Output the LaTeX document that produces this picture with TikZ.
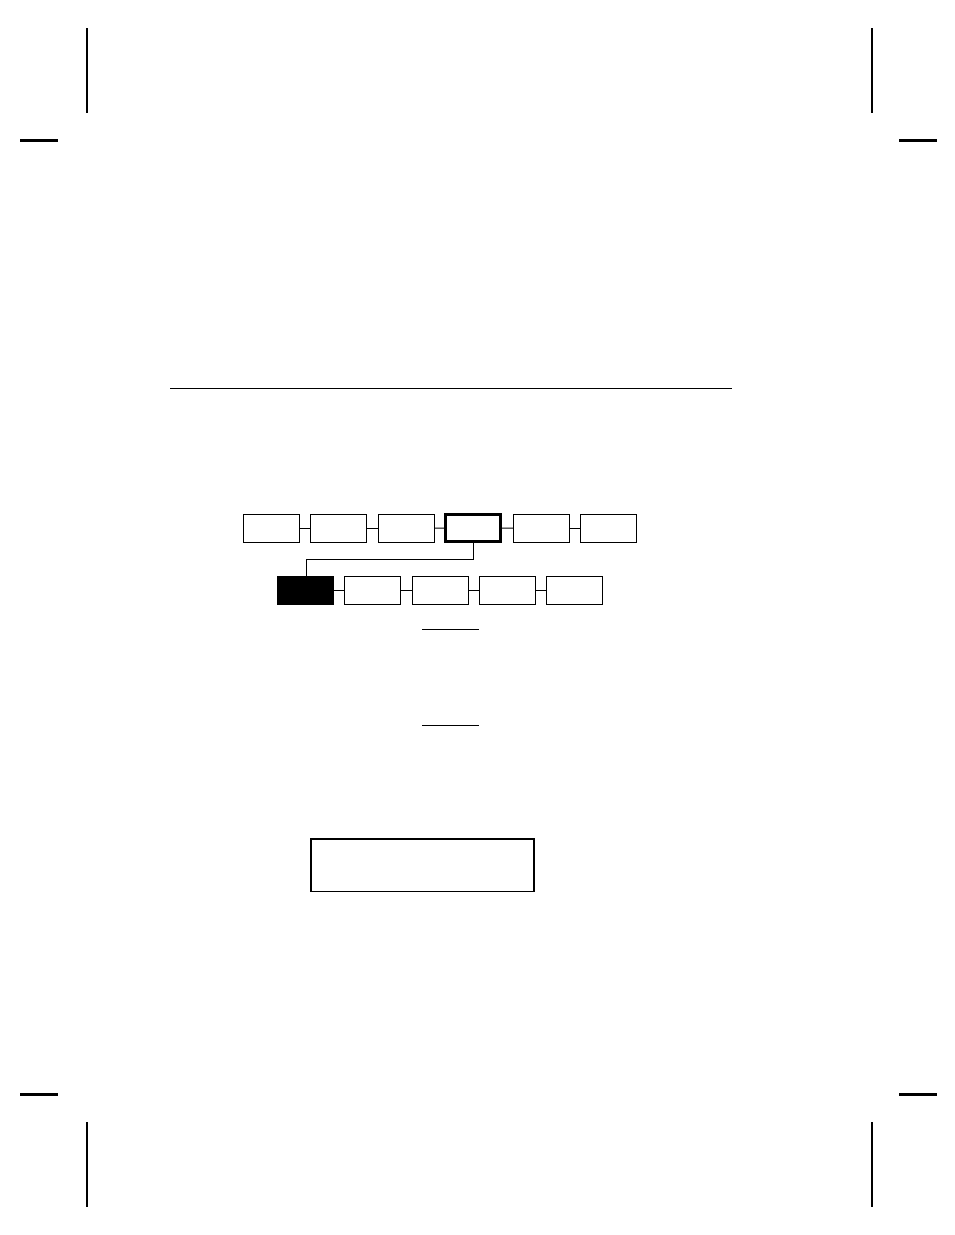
\documentclass[tikz,border=0pt]{standalone}
\begin{document}
\begin{tikzpicture}[x=1pt,y=-1pt,
  mbox/.style={draw=black,line width=1pt,fill=white,minimum width=56pt,minimum height=28pt,inner sep=0pt,outer sep=0pt},
  selbox/.style={mbox,line width=2.8pt,minimum width=55pt,minimum height=27pt},
  blackbox/.style={mbox,fill=black},
  conn/.style={draw=black,line width=1pt},
  crop/.style={draw=black,line width=1.6pt},
  hcrop/.style={draw=black,line width=2.1pt},
  rule/.style={draw=black,line width=1.2pt}]
\useasboundingbox (0,0) rectangle (954,1235);
% crop marks
\draw[crop] (87,28) -- (87,112.5);
\draw[hcrop] (20,140.5) -- (57.5,140.5);
\draw[crop] (872,28) -- (872,112.5);
\draw[hcrop] (899,140.5) -- (937,140.5);
\draw[hcrop] (20,1094.5) -- (57.5,1094.5);
\draw[crop] (87,1122) -- (87,1207);
\draw[hcrop] (899,1094.5) -- (937,1094.5);
\draw[crop] (872,1122) -- (872,1207);
% horizontal rule
\draw[rule] (170,388.3) -- (732,388.3);
% top row
\node[mbox] (t1) at (271.3,528) {};
\node[mbox] (t2) at (338.8,528) {};
\node[mbox] (t3) at (406.3,528) {};
\node[selbox] (t4) at (473.3,528.3) {};
\node[mbox] (t5) at (541,528) {};
\node[mbox] (t6) at (608.5,528) {};
% bottom row
\node[blackbox] (b1) at (305.5,590.2) {};
\node[mbox] (b2) at (372.5,590.2) {};
\node[mbox] (b3) at (440,590.2) {};
\node[mbox] (b4) at (507.3,590.2) {};
\node[mbox] (b5) at (574.2,590.2) {};
% connectors
\draw[conn] (t1) -- (t2);
\draw[conn] (t2) -- (t3);
\draw[conn] (t3) -- (t4);
\draw[conn] (t4) -- (t5);
\draw[conn] (t5) -- (t6);
\draw[conn] (b1) -- (b2);
\draw[conn] (b2) -- (b3);
\draw[conn] (b3) -- (b4);
\draw[conn] (b4) -- (b5);
\coordinate (k1) at (473.3,559);
\coordinate (k2) at (306,559);
\draw[conn] (t4.south) -- (k1) -- (k2) -- (b1.north -| k2);
% underlines
\coordinate (u1a) at (422.3,629.3);
\coordinate (u1b) at (479,629.3);
\draw[conn,line width=1.3pt] (u1a) -- (u1b);
\coordinate (u2a) at (422.3,725.3);
\coordinate (u2b) at (479,725.3);
\draw[conn,line width=1.3pt] (u2a) -- (u2b);
% bottom box
\node[draw=black,line width=1.8pt,minimum width=222.5pt,minimum height=52.5pt,inner sep=0pt] (disp) at (422.5,865.3) {};
\end{tikzpicture}
\end{document}
